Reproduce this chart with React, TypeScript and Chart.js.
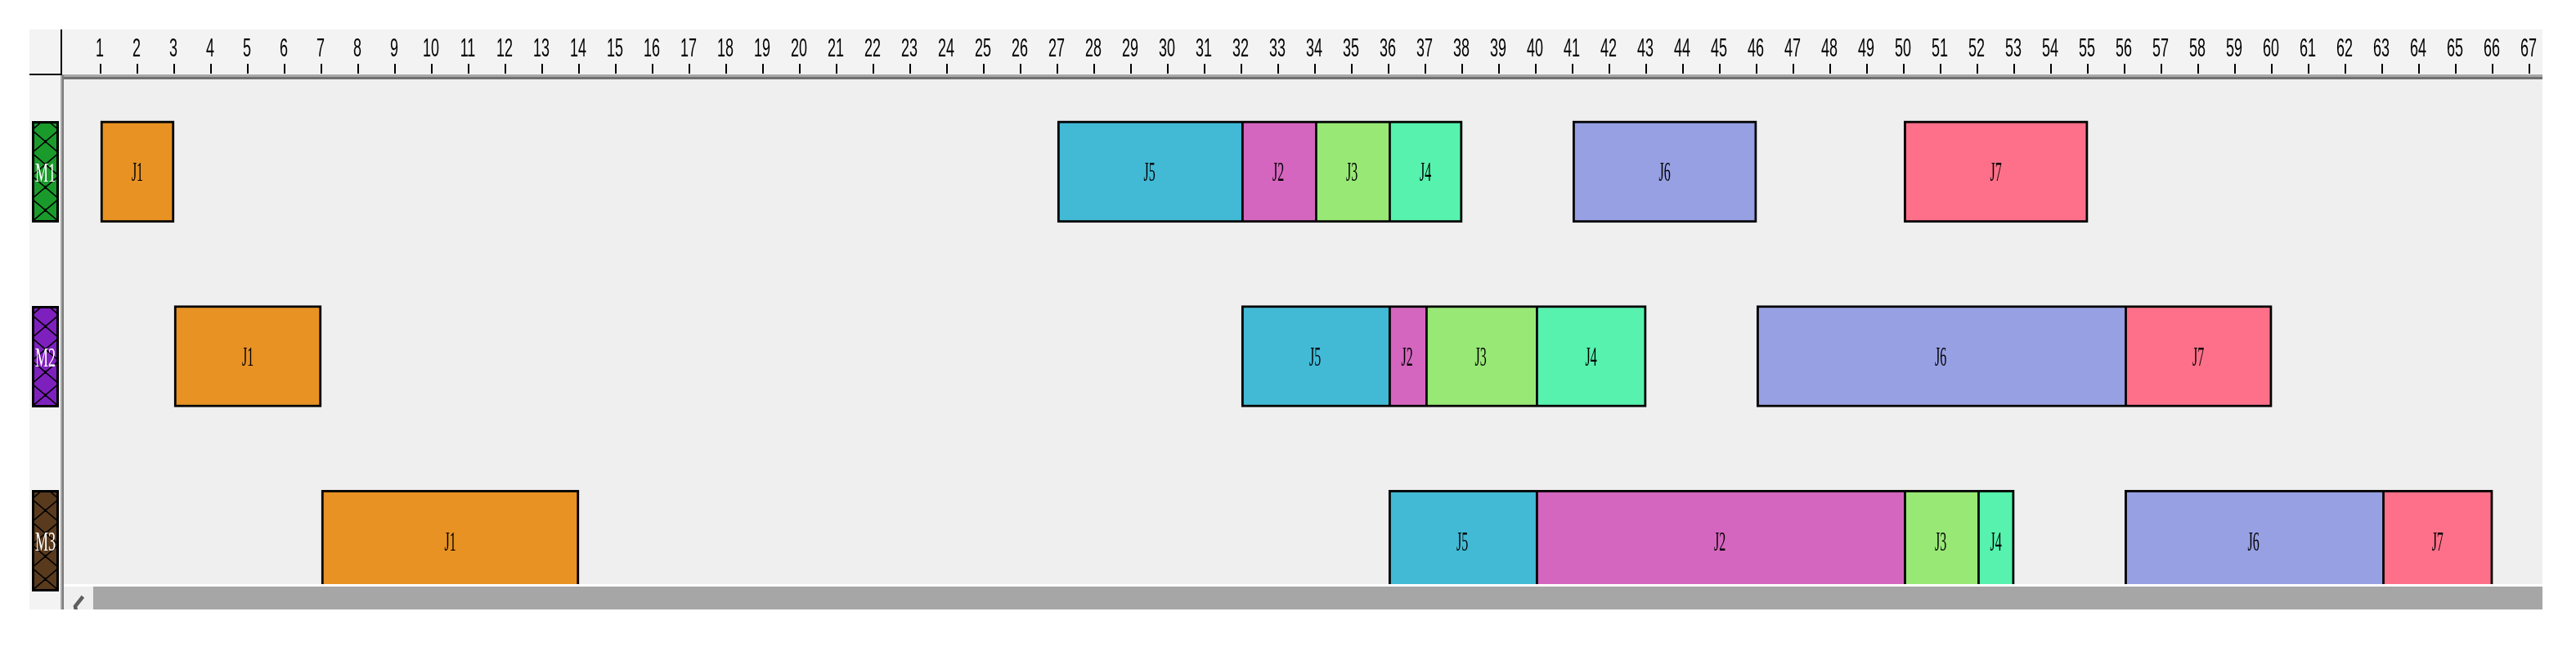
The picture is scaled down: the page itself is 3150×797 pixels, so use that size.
import React, { useEffect, useRef } from "react";
import { Chart, registerables } from "chart.js";

Chart.register(...registerables);

// ---------- data ----------
const MACHINES = ["M1", "M2", "M3"];
const MACHINE_COLORS = ["#1a9a2b", "#7e20be", "#5a3a1d"];

const JOBS = ["J1", "J2", "J3", "J4", "J5", "J6", "J7"];
const JOB_COLORS = ["#e89223", "#d566bf", "#98e876", "#56f2ae", "#42bad6", "#97a0e3", "#fe7089"];

// [start, end] for M1, M2, M3
const J1_SPANS = [[1, 3], [3, 7], [7, 14]];
const J2_SPANS = [[32, 34], [36, 37], [40, 50]];
const J3_SPANS = [[34, 36], [37, 40], [50, 52]];
const J4_SPANS = [[36, 38], [40, 43], [52, 53]];
const J5_SPANS = [[27, 32], [32, 36], [36, 40]];
const J6_SPANS = [[41, 46], [46, 56], [56, 63]];
const J7_SPANS = [[50, 55], [56, 60], [63, 66]];
const JOB_SPANS = [J1_SPANS, J2_SPANS, J3_SPANS, J4_SPANS, J5_SPANS, J6_SPANS, J7_SPANS];

const TICK_LABELS = [
  1, 2, 3, 4, 5, 6, 7, 8, 9, 10, 11, 12, 13, 14, 15, 16, 17, 18, 19, 20,
  21, 22, 23, 24, 25, 26, 27, 28, 29, 30, 31, 32, 33, 34, 35, 36, 37, 38, 39, 40,
  41, 42, 43, 44, 45, 46, 47, 48, 49, 50, 51, 52, 53, 54, 55, 56, 57, 58, 59, 60,
  61, 62, 63, 64, 65, 66, 67,
];

const X_MIN = 0;
const X_MAX = 67.35;

// ---------- layout constants ----------
const W = 3150;
const H = 797;
const RULER_TOP = 36;
const FRAME_LEFT = 36;
const SCROLL_TOP = 717;
const SCROLL_BOTTOM = 745;
const PLOT_VISIBLE_BOTTOM = 714;

function drawStretched(
  ctx: CanvasRenderingContext2D,
  text: string,
  x: number,
  y: number,
  font: string,
  sy: number,
  color: string
) {
  ctx.save();
  ctx.font = font;
  ctx.fillStyle = color;
  ctx.textAlign = "center";
  ctx.textBaseline = "alphabetic";
  const m = ctx.measureText(text);
  const asc = m.actualBoundingBoxAscent || 0;
  const desc = m.actualBoundingBoxDescent || 0;
  ctx.translate(x, y);
  ctx.scale(1, sy);
  ctx.fillText(text, 0, (asc - desc) / 2);
  ctx.restore();
}

function makeLatticeTile(color: string) {
  const c = document.createElement("canvas");
  c.width = 33;
  c.height = 28;
  const g = c.getContext("2d")!;
  g.fillStyle = color;
  g.fillRect(0, 0, 33, 28);
  g.strokeStyle = "#000";
  g.lineWidth = 1.6;
  g.beginPath();
  g.moveTo(0, 0);
  g.lineTo(33, 28);
  g.moveTo(33, 0);
  g.lineTo(0, 28);
  g.stroke();
  g.fillStyle = "#000";
  g.fillRect(15, 12, 3, 4);
  return c;
}

const ganttPlugin = {
  id: "ganttFrame",
  beforeDraw(chart: any) {
    const ctx: CanvasRenderingContext2D = chart.ctx;
    const { left, right, top, bottom } = chart.chartArea;
    const xs = chart.scales.x;
    ctx.save();
    ctx.fillStyle = "#ffffff";
    ctx.fillRect(0, 0, W, H);
    // left column + ruler background
    ctx.fillStyle = "#f3f3f3";
    ctx.fillRect(FRAME_LEFT, RULER_TOP, left - FRAME_LEFT, SCROLL_BOTTOM - RULER_TOP);
    ctx.fillRect(FRAME_LEFT, RULER_TOP, right - FRAME_LEFT, top - 6 - RULER_TOP);
    // plot background
    ctx.fillStyle = "#efefef";
    ctx.fillRect(left, top, right - left, bottom - top);
    // line under ruler
    ctx.fillStyle = "#a8a8a8";
    ctx.fillRect(left - 2, top - 6, right - left + 2, 3);
    ctx.fillStyle = "#707070";
    ctx.fillRect(left - 2, top - 3, right - left + 2, 3);
    // corner lines
    ctx.fillStyle = "#000";
    ctx.fillRect(FRAME_LEFT, top - 7, left - 2 - FRAME_LEFT, 2);
    ctx.fillRect(left - 4, RULER_TOP, 2, top - 5 - RULER_TOP);
    // left vertical gray line
    ctx.fillStyle = "#a8a8a8";
    ctx.fillRect(left - 4, top - 5, 2, SCROLL_BOTTOM - top + 5);
    ctx.fillStyle = "#7a7a7a";
    ctx.fillRect(left - 2, top - 5, 2, SCROLL_BOTTOM - top + 5);
    // ruler ticks and labels
    for (const t of TICK_LABELS) {
      const x = Math.round(xs.getPixelForValue(t));
      ctx.fillStyle = "#000";
      ctx.fillRect(x - 1, top - 19, 2, 12);
      drawStretched(ctx, String(t), x - 1, 58, '18px "Liberation Sans"', 1.75, "#000");
    }
    ctx.restore();
  },
  afterDatasetsDraw(chart: any) {
    const ctx: CanvasRenderingContext2D = chart.ctx;
    chart.data.datasets.forEach((ds: any, di: number) => {
      const meta = chart.getDatasetMeta(di);
      meta.data.forEach((el: any) => {
        const cx = (el.x + el.base) / 2;
        drawStretched(ctx, ds.label, cx, el.y, '16px "Liberation Serif"', 2.1, "#000");
      });
    });
  },
  afterDraw(chart: any) {
    const ctx: CanvasRenderingContext2D = chart.ctx;
    const { left, right } = chart.chartArea;
    const ys = chart.scales.y;
    ctx.save();
    // white strip and scrollbar covering the clipped bottom
    ctx.fillStyle = "#ffffff";
    ctx.fillRect(left, PLOT_VISIBLE_BOTTOM, W - left, H - PLOT_VISIBLE_BOTTOM);
    ctx.fillRect(0, SCROLL_BOTTOM, W, H - SCROLL_BOTTOM);
    ctx.fillStyle = "#efefef";
    ctx.fillRect(left, SCROLL_TOP, 36, SCROLL_BOTTOM - SCROLL_TOP);
    ctx.fillStyle = "#a6a6a6";
    ctx.fillRect(left + 36, SCROLL_TOP, right - left - 36, SCROLL_BOTTOM - SCROLL_TOP);
    // scroll-left arrow (clipped like the original)
    ctx.save();
    ctx.beginPath();
    ctx.rect(left, SCROLL_TOP, 36, SCROLL_BOTTOM - SCROLL_TOP);
    ctx.clip();
    ctx.strokeStyle = "#5e5e5e";
    ctx.lineWidth = 4.5;
    ctx.lineCap = "square";
    ctx.beginPath();
    ctx.moveTo(left + 22, 731);
    ctx.lineTo(left + 14, 741);
    ctx.lineTo(left + 16, 752);
    ctx.stroke();
    ctx.restore();
    // machine label boxes
    MACHINES.forEach((m, i) => {
      const cy = ys.getPixelForValue(i);
      const bx = 39;
      const bw = 33;
      const bh = 124;
      const by = Math.round(cy - bh / 2);
      const tile = makeLatticeTile(MACHINE_COLORS[i]);
      const pat = ctx.createPattern(tile, "repeat")!;
      ctx.save();
      ctx.translate(bx, by - 17);
      ctx.fillStyle = pat;
      ctx.fillRect(0, 17, bw, bh);
      ctx.restore();
      ctx.strokeStyle = "#000";
      ctx.lineWidth = 3;
      ctx.strokeRect(bx + 1.5, by + 1.5, bw - 3, bh - 3);
      drawStretched(ctx, m, bx + bw / 2, cy, '18px "Liberation Serif"', 1.85, "#ffffff");
    });
    ctx.restore();
  },
};

function touchesNext(machine: number, end: number) {
  return JOB_SPANS.some((spans) => spans[machine][0] === end);
}

export default function App() {
  const ref = useRef<HTMLCanvasElement>(null);
  useEffect(() => {
    const canvas = ref.current!;
    const datasets = JOBS.map((job, j) => ({
      label: job,
      data: JOB_SPANS[j].map((s) => [s[0], s[1]]),
      backgroundColor: JOB_COLORS[j],
      borderColor: "#000000",
      borderSkipped: false,
      grouped: false,
      barThickness: 124,
      borderWidth: (c: any) => {
        const s = JOB_SPANS[j][c.dataIndex];
        return { top: 3, bottom: 3, left: 3, right: touchesNext(c.dataIndex, s[1]) ? 0 : 3 };
      },
    }));
    const chart = new Chart(canvas, {
      type: "bar",
      data: { labels: MACHINES, datasets: datasets as any },
      options: {
        indexAxis: "y",
        responsive: false,
        animation: false,
        devicePixelRatio: 1,
        layout: { padding: { left: 78, right: 41, top: 97, bottom: 23 } },
        plugins: { legend: { display: false }, tooltip: { enabled: false } },
        scales: {
          x: { type: "linear", min: X_MIN, max: X_MAX, display: false },
          y: { type: "category", display: false, offset: true },
        },
      },
      plugins: [ganttPlugin],
    });
    return () => chart.destroy();
  }, []);
  return (
    <div style={{ position: "absolute", left: 0, top: 0, width: W, height: H }}>
      <canvas ref={ref} width={W} height={H} style={{ display: "block", width: W, height: H }} />
    </div>
  );
}
